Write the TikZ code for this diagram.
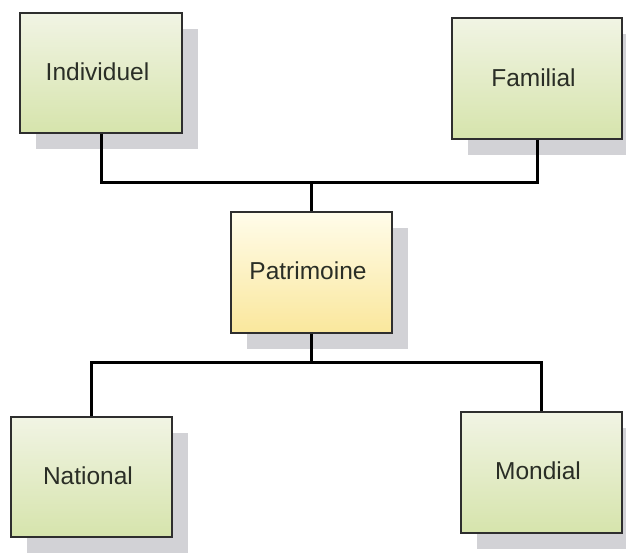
\documentclass[tikz,border=0pt]{standalone}
\usepackage{fontspec}
\setmainfont{Liberation Sans}
\usetikzlibrary{shadows}
\definecolor{gtop}{HTML}{F1F4E4}
\definecolor{gbot}{HTML}{D6E4AC}
\definecolor{ytop}{HTML}{FFFCEA}
\definecolor{ybot}{HTML}{FAE79C}
\definecolor{shad}{HTML}{D2D2D6}
\definecolor{bord}{HTML}{2E2E2E}
\definecolor{txt}{HTML}{2A2E26}
\newcommand{\boxtext}[2]{\raisebox{#1}{#2}\hspace*{7pt}}
\tikzset{
  box/.style={draw=bord, line width=1.3pt, minimum width=161pt, minimum height=120pt,
    inner sep=0pt, font=\fontsize{24.5}{28}\selectfont, text=txt,
    drop shadow={shadow xshift=16pt, shadow yshift=-16pt, fill=shad, opacity=1}},
  greenbox/.style={box, top color=gtop, bottom color=gbot},
  yellowbox/.style={box, top color=ytop, bottom color=ybot},
  wire/.style={line width=3pt, black}
}
\begin{document}
\begin{tikzpicture}[x=1pt,y=-1pt]
\useasboundingbox[fill=white] (0,0) rectangle (626,552);
\node[greenbox, minimum width=162pt] (ind) at (101,73) {\boxtext{3pt}{Individuel}};
\node[greenbox, minimum width=170pt, minimum height=121pt] (fam) at (537,78.5) {\boxtext{2pt}{Familial}};
\node[yellowbox, minimum height=121pt] (pat) at (311.5,272.5) {\boxtext{3pt}{Patrimoine}};
\node[greenbox] (nat) at (91.5,477) {\boxtext{3pt}{National}};
\node[greenbox, minimum height=121pt] (mon) at (541.5,472.5) {\boxtext{3pt}{Mondial}};
\coordinate (j1) at (311.5,182);
\coordinate (j2) at (311.5,362);
\draw[wire] (ind.south) |- (j1);
\draw[wire] (fam.south) |- (j1);
\draw[wire] (j1) -- (pat.north);
\draw[wire] (pat.south) -- (j2);
\draw[wire] (nat.north) |- (j2);
\draw[wire] (mon.north) |- (j2);
\end{tikzpicture}
\end{document}
